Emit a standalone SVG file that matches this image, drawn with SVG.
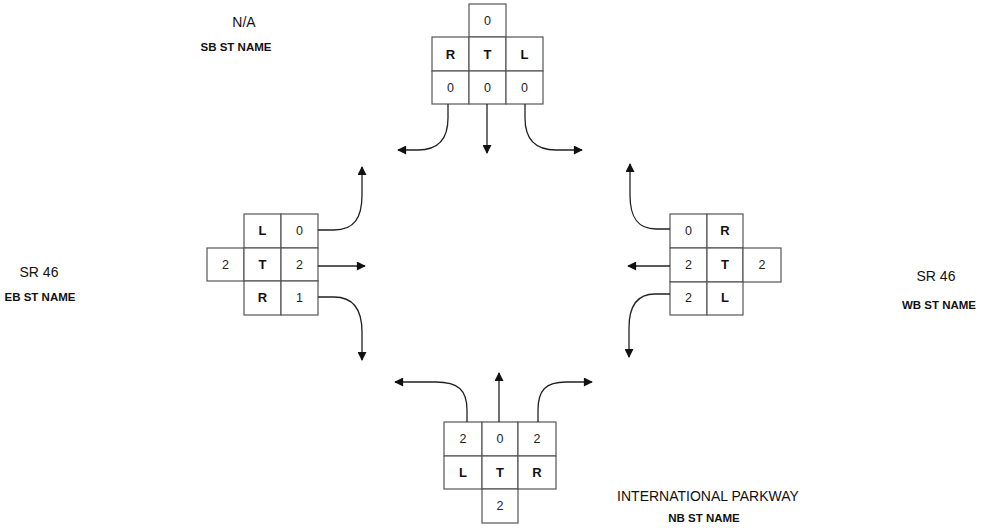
<svg xmlns="http://www.w3.org/2000/svg" width="996" height="529" viewBox="0 0 996 529">
<defs>
<marker id="ah" viewBox="0 0 10 10" refX="9" refY="5" markerWidth="10" markerHeight="9" markerUnits="userSpaceOnUse" orient="auto">
<path d="M0,0 L10,5 L0,10 Z" fill="#111"/>
</marker>
<style>
.c{fill:#fff;stroke:#555;stroke-width:1.2}
.n{font-family:"Liberation Sans",Arial,sans-serif;font-size:12.5px;fill:#222;text-anchor:middle}
.l{font-family:"Liberation Sans",Arial,sans-serif;font-size:13px;font-weight:bold;fill:#111;text-anchor:middle}
.t{font-family:"Liberation Sans",Arial,sans-serif;font-size:14px;fill:#111;text-anchor:middle}
.b{font-family:"Liberation Sans",Arial,sans-serif;font-size:11.5px;font-weight:bold;fill:#111;text-anchor:middle}
.a{fill:none;stroke:#222;stroke-width:1.3;marker-end:url(#ah)}
</style>
</defs>
<rect width="996" height="529" fill="#fff"/>

<g id="sb">
<rect class="c" x="469" y="4" width="37" height="33"/>
<rect class="c" x="432" y="37" width="37" height="34"/>
<rect class="c" x="469" y="37" width="37" height="34"/>
<rect class="c" x="506" y="37" width="37" height="34"/>
<rect class="c" x="432" y="71" width="37" height="33"/>
<rect class="c" x="469" y="71" width="37" height="33"/>
<rect class="c" x="506" y="71" width="37" height="33"/>
<text class="n" x="487.5" y="25">0</text>
<text class="l" x="450.5" y="59">R</text>
<text class="l" x="487.5" y="59">T</text>
<text class="l" x="524.5" y="59">L</text>
<text class="n" x="450.5" y="92">0</text>
<text class="n" x="487.5" y="92">0</text>
<text class="n" x="524.5" y="92">0</text>
</g>

<g id="eb">
<rect class="c" x="244" y="214" width="37" height="34"/>
<rect class="c" x="281" y="214" width="37" height="34"/>
<rect class="c" x="207" y="248" width="37" height="33"/>
<rect class="c" x="244" y="248" width="37" height="33"/>
<rect class="c" x="281" y="248" width="37" height="33"/>
<rect class="c" x="244" y="281" width="37" height="34"/>
<rect class="c" x="281" y="281" width="37" height="34"/>
<text class="l" x="262.5" y="235">L</text>
<text class="n" x="299.5" y="235">0</text>
<text class="n" x="225.5" y="269">2</text>
<text class="l" x="262.5" y="269">T</text>
<text class="n" x="299.5" y="269">2</text>
<text class="l" x="262.5" y="302">R</text>
<text class="n" x="299.5" y="302">1</text>
</g>

<g id="wb">
<rect class="c" x="670" y="214" width="37" height="34"/>
<rect class="c" x="707" y="214" width="36" height="34"/>
<rect class="c" x="670" y="248" width="37" height="34"/>
<rect class="c" x="707" y="248" width="36" height="34"/>
<rect class="c" x="743" y="248" width="38" height="34"/>
<rect class="c" x="670" y="282" width="37" height="33"/>
<rect class="c" x="707" y="282" width="36" height="33"/>
<text class="n" x="688.5" y="235">0</text>
<text class="l" x="725" y="235">R</text>
<text class="n" x="688.5" y="269">2</text>
<text class="l" x="725" y="269">T</text>
<text class="n" x="762" y="269">2</text>
<text class="n" x="688.5" y="302">2</text>
<text class="l" x="725" y="302">L</text>
</g>

<g id="nb">
<rect class="c" x="444" y="422" width="38" height="34"/>
<rect class="c" x="482" y="422" width="36" height="34"/>
<rect class="c" x="518" y="422" width="38" height="34"/>
<rect class="c" x="444" y="456" width="38" height="33"/>
<rect class="c" x="482" y="456" width="36" height="33"/>
<rect class="c" x="518" y="456" width="38" height="33"/>
<rect class="c" x="482" y="489" width="36" height="34"/>
<text class="n" x="463" y="443">2</text>
<text class="n" x="500" y="443">0</text>
<text class="n" x="537" y="443">2</text>
<text class="l" x="463" y="477">L</text>
<text class="l" x="500" y="477">T</text>
<text class="l" x="537" y="477">R</text>
<text class="n" x="500" y="510">2</text>
</g>

<g id="connectors">
<path class="a" d="M448,104 V118 C448,140 438,150 418,150 H398"/>
<path class="a" d="M487,104 V153"/>
<path class="a" d="M525,104 V118 C525,140 536,150 556,150 H582"/>
<path class="a" d="M318,230 H334 C354,230 362,218 362,195 V167"/>
<path class="a" d="M318,266 H365"/>
<path class="a" d="M318,297 H334 C354,297 362,310 362,332 V360"/>
<path class="a" d="M670,229 H656 C638,229 630,218 630,195 V164"/>
<path class="a" d="M670,266 H628"/>
<path class="a" d="M670,294 H655 C637,294 629,306 629,328 V357"/>
<path class="a" d="M467,422 V410 C467,390 458,382 436,382 H395"/>
<path class="a" d="M499,422 V373"/>
<path class="a" d="M538,422 V410 C538,390 546,382 566,382 H592"/>
</g>

<g id="labels">
<text class="t" x="244" y="27">N/A</text>
<text class="b" x="236" y="51">SB ST NAME</text>
<text class="t" x="39" y="277">SR 46</text>
<text class="b" x="40" y="301">EB ST NAME</text>
<text class="t" x="936" y="281">SR 46</text>
<text class="b" x="939" y="309">WB ST NAME</text>
<text class="t" x="708" y="501">INTERNATIONAL PARKWAY</text>
<text class="b" x="704" y="522">NB ST NAME</text>
</g>
</svg>
